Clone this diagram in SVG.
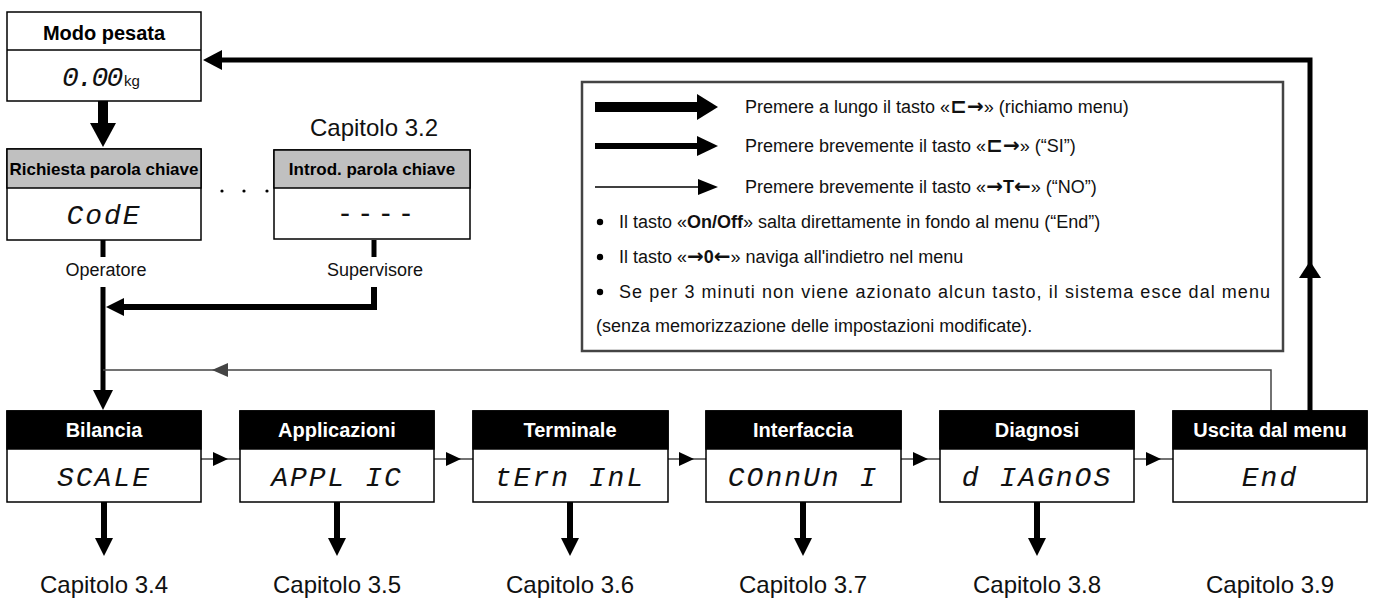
<svg xmlns="http://www.w3.org/2000/svg" width="1374" height="599" viewBox="0 0 1374 599">
<style>
.box{fill:#fff;stroke:#000;stroke-width:1.5}
.hg{fill:#c0c0c0;stroke:#000;stroke-width:1.5}
.hb{fill:#000;stroke:#000;stroke-width:1.5}
.ht{font-family:"Liberation Sans",Arial,sans-serif;font-weight:bold;text-anchor:middle;fill:#000}
.hw{font-family:"Liberation Sans",Arial,sans-serif;font-weight:bold;text-anchor:middle;fill:#fff;font-size:20px}
.disp{font-family:"Liberation Mono","DejaVu Sans Mono",monospace;font-style:italic;font-size:28px;text-anchor:middle;letter-spacing:2px;fill:#111}
.lbl{font-family:"Liberation Sans",Arial,sans-serif;text-anchor:middle;fill:#111}
.cap{font-family:"Liberation Sans",Arial,sans-serif;text-anchor:middle;font-size:24px;fill:#111}
.leg{font-family:"Liberation Sans",Arial,"DejaVu Sans",sans-serif;font-size:18px;fill:#111}
.ar{font-family:"DejaVu Sans",sans-serif;font-weight:bold;font-size:20px}
.k{stroke:#000;fill:none}
.t{stroke:#444;fill:none;stroke-width:1.5}
</style>

<g id="connectors">
  <path class="k" d="M1310,411 V60 H221" stroke-width="5"/>
  <polygon points="203,60 222,50 222,70"/>
  <polygon points="1310,261 1299,278 1321,278"/>
  <rect x="98" y="101" width="10" height="23"/>
  <polygon points="90,123 116,123 103,147"/>
  <line class="k" x1="103" y1="240" x2="103" y2="257" stroke-width="5"/>
  <line class="k" x1="103" y1="287" x2="103" y2="392" stroke-width="5"/>
  <polygon points="93,390 113,390 103,410"/>
  <line class="k" x1="374" y1="240" x2="374" y2="257" stroke-width="5"/>
  <path class="k" d="M374,287 V307 H122" stroke-width="6"/>
  <polygon points="106,307 124,298 124,316"/>
  <path class="t" d="M1271,411 V370 H103"/>
  <polygon points="212,370 228,363 228,377" fill="#444"/>
  <line class="t" x1="201" y1="459" x2="240" y2="459"/>
  <polygon points="228,459 213,452 213,466"/>
  <line class="t" x1="434" y1="459" x2="473" y2="459"/>
  <polygon points="461,459 446,452 446,466"/>
  <line class="t" x1="668" y1="459" x2="706" y2="459"/>
  <polygon points="694,459 679,452 679,466"/>
  <line class="t" x1="901" y1="459" x2="940" y2="459"/>
  <polygon points="928,459 913,452 913,466"/>
  <line class="t" x1="1134" y1="459" x2="1173" y2="459"/>
  <polygon points="1161,459 1146,452 1146,466"/>
  <rect x="101" y="502" width="6" height="37"/>
  <polygon points="95,538 113,538 104,556"/>
  <rect x="334" y="502" width="6" height="37"/>
  <polygon points="328,538 346,538 337,556"/>
  <rect x="567" y="502" width="6" height="37"/>
  <polygon points="561,538 579,538 570,556"/>
  <rect x="800" y="502" width="6" height="37"/>
  <polygon points="794,538 812,538 803,556"/>
  <rect x="1034" y="502" width="6" height="37"/>
  <polygon points="1028,538 1046,538 1037,556"/>
  <circle cx="222" cy="191" r="1.6"/>
  <circle cx="244" cy="191" r="1.6"/>
  <circle cx="267" cy="191" r="1.6"/>
</g>

<g id="modo">
  <rect class="box" x="7" y="12" width="194" height="89"/>
  <line x1="7" y1="50" x2="201" y2="50" stroke="#000" stroke-width="1.5"/>
  <text class="ht" x="104" y="40" font-size="20">Modo pesata</text>
  <text x="62" y="86" font-family="Liberation Mono,monospace" font-style="italic" font-size="28" letter-spacing="-2" fill="#111">0.00</text>
  <text x="124" y="86" font-family="Liberation Sans,Arial,sans-serif" font-size="15" fill="#111">kg</text>
</g>

<g id="richiesta">
  <rect class="box" x="7" y="149" width="194" height="91"/>
  <rect class="hg" x="7" y="149" width="194" height="39"/>
  <text class="ht" x="104" y="175" font-size="17">Richiesta parola chiave</text>
  <text class="disp" x="104" y="224">CodE</text>
  <text class="lbl" x="106" y="276" font-size="18">Operatore</text>
</g>

<g id="introd">
  <rect class="box" x="274" y="150" width="196" height="89"/>
  <rect class="hg" x="274" y="150" width="196" height="38"/>
  <text class="ht" x="372" y="175" font-size="17">Introd. parola chiave</text>
  <text class="lbl" x="376" y="223" font-size="30" letter-spacing="1">- - - -</text>
  <text class="cap" x="374" y="136">Capitolo 3.2</text>
  <text class="lbl" x="375" y="276" font-size="18">Supervisore</text>
</g>

<g id="legend">
  <rect x="582" y="82" width="701" height="269" fill="#fff" stroke="#444" stroke-width="2.5"/>
  <rect x="595" y="102" width="103" height="10"/>
  <polygon points="697,94 718,107 697,120"/>
  <rect x="595" y="143" width="103" height="6"/>
  <polygon points="697,136 718,146 697,156"/>
  <line x1="595" y1="187" x2="700" y2="187" stroke="#000" stroke-width="1.5"/>
  <polygon points="698,179 718,187 698,195"/>
  <text class="leg" x="745" y="113">Premere a lungo il tasto «<tspan class="ar">⊏→</tspan>» (richiamo menu)</text>
  <text class="leg" x="745" y="152">Premere brevemente il tasto «<tspan class="ar">⊏→</tspan>»  (“SI”)</text>
  <text class="leg" x="745" y="193">Premere brevemente il tasto «<tspan class="ar">→</tspan><tspan font-weight="bold">T</tspan><tspan class="ar">←</tspan>» (“NO”)</text>
  <circle cx="600" cy="222" r="3.2"/>
  <circle cx="600" cy="257" r="3.2"/>
  <circle cx="600" cy="292" r="3.2"/>
  <text class="leg" x="619" y="228">Il tasto «<tspan font-weight="bold">On/Off</tspan>» salta direttamente in fondo al menu (“End”)</text>
  <text class="leg" x="619" y="263">Il tasto «<tspan class="ar">→</tspan><tspan font-weight="bold">0</tspan><tspan class="ar">←</tspan>» naviga all'indietro nel menu</text>
  <text class="leg" x="619" y="298" textLength="651" lengthAdjust="spacing">Se per 3 minuti non viene azionato alcun tasto, il sistema esce dal menu</text>
  <text class="leg" x="596" y="332">(senza memorizzazione delle impostazioni modificate).</text>
</g>

<g id="bilancia">
  <rect class="box" x="7" y="411" width="194" height="91"/>
  <rect class="hb" x="7" y="411" width="194" height="38"/>
  <text class="hw" x="104" y="437">Bilancia</text>
  <text class="disp" x="104" y="486">SCALE</text>
  <text class="cap" x="104" y="593">Capitolo 3.4</text>
</g>

<g id="applicazioni">
  <rect class="box" x="240" y="411" width="194" height="91"/>
  <rect class="hb" x="240" y="411" width="194" height="38"/>
  <text class="hw" x="337" y="437">Applicazioni</text>
  <text class="disp" x="337" y="486">APPL IC</text>
  <text class="cap" x="337" y="593">Capitolo 3.5</text>
</g>

<g id="terminale">
  <rect class="box" x="473" y="411" width="195" height="91"/>
  <rect class="hb" x="473" y="411" width="195" height="38"/>
  <text class="hw" x="570" y="437">Terminale</text>
  <text class="disp" x="570" y="486">tErn InL</text>
  <text class="cap" x="570" y="593">Capitolo 3.6</text>
</g>

<g id="interfaccia">
  <rect class="box" x="706" y="411" width="195" height="91"/>
  <rect class="hb" x="706" y="411" width="195" height="38"/>
  <text class="hw" x="803" y="437">Interfaccia</text>
  <text class="disp" x="803" y="486">COnnUn I</text>
  <text class="cap" x="803" y="593">Capitolo 3.7</text>
</g>

<g id="diagnosi">
  <rect class="box" x="940" y="411" width="194" height="91"/>
  <rect class="hb" x="940" y="411" width="194" height="38"/>
  <text class="hw" x="1037" y="437">Diagnosi</text>
  <text class="disp" x="1037" y="486">d IAGnOS</text>
  <text class="cap" x="1037" y="593">Capitolo 3.8</text>
</g>

<g id="uscita">
  <rect class="box" x="1173" y="411" width="194" height="91"/>
  <rect class="hb" x="1173" y="411" width="194" height="38"/>
  <text class="hw" x="1270" y="437">Uscita dal menu</text>
  <text class="disp" x="1270" y="486">End</text>
  <text class="cap" x="1270" y="593">Capitolo 3.9</text>
</g>
</svg>
